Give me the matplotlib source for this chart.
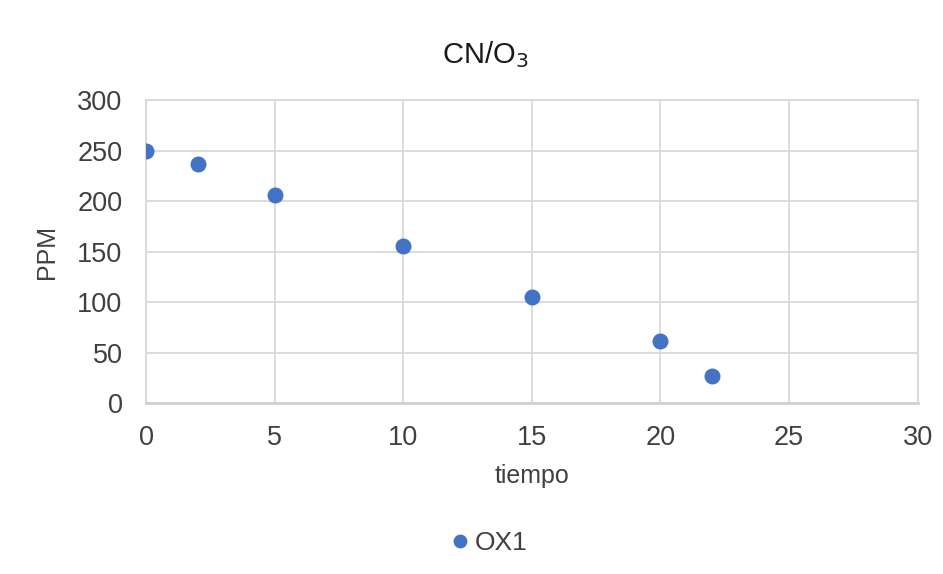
import matplotlib
matplotlib.use('Agg')
from matplotlib import pyplot as plt

tiempo = [0, 2, 5, 10, 15, 20, 22]
ppm = [250, 237, 206, 156, 105, 61, 27]
x_ticks = [0, 5, 10, 15, 20, 25, 30]
y_ticks = [0, 50, 100, 150, 200, 250, 300]

plt.rcParams['font.family'] = ['Liberation Sans', 'DejaVu Sans']

fig = plt.figure(figsize=(9.43, 5.74), dpi=100)
ax = fig.add_axes([0.155, 0.298, 0.818, 0.527])

ax.plot(tiempo, ppm, linestyle='none', marker='o', markersize=10.5,
        color='#4472C4', label='OX1', zorder=3)

ax.set_xlim(0, 30)
ax.set_ylim(0, 300)
ax.set_xticks(x_ticks)
ax.set_yticks(y_ticks)
ax.tick_params(length=0, labelsize=19.5, colors='#404040')
ax.tick_params(axis='x', pad=16)
ax.tick_params(axis='y', pad=17)
ax.grid(True, color='#d9d9d9', linewidth=1.3)
ax.set_axisbelow(True)
for side in ['top', 'right', 'left']:
    ax.spines[side].set_color('#d9d9d9')
    ax.spines[side].set_linewidth(1.3)
ax.spines['bottom'].set_color('#d0d0d0')
ax.spines['bottom'].set_linewidth(2)

ax.set_xlabel('tiempo', fontsize=18, color='#404040', labelpad=9)
ax.set_ylabel('PPM', fontsize=18, color='#404040', labelpad=13)
fig.text(0.515, 0.905, 'CN/O$_3$', ha='center', va='center', fontsize=21, color='#1a1a1a')

fig.legend(loc='center', bbox_to_anchor=(0.51, 0.054), frameon=False, fontsize=19,
           handletextpad=-0.45, markerscale=0.85, labelcolor='#404040')

plt.savefig('out.png', dpi=100)
